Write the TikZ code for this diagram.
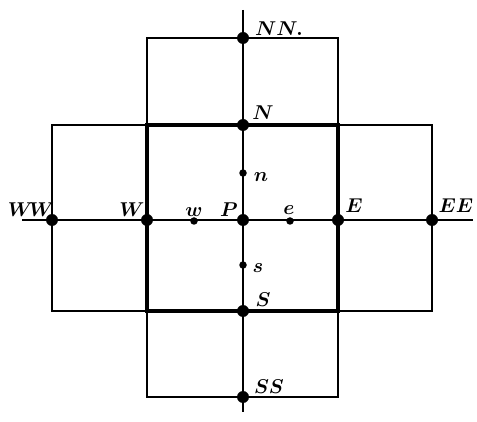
\documentclass[tikz,border=0pt]{standalone}
\usepackage{fix-cm}
\begin{document}
\begin{tikzpicture}[x=1pt,y=-1pt,
  gridline/.style={line width=1.8pt},
  thickline/.style={line width=3.6pt},
  bigdot/.style={circle,fill,inner sep=0pt,minimum size=12pt},
  smalldot/.style={circle,fill,inner sep=0pt,minimum size=7.5pt},
  lbl/.style={inner sep=0pt,font=\fontsize{20}{24}\selectfont\boldmath}]
\useasboundingbox (0,0) rectangle (477,422);
% grid points
\coordinate (NN) at (243,38);
\coordinate (N) at (243,125);
\coordinate (P) at (243,220);
\coordinate (S) at (243,311);
\coordinate (SS) at (243,397);
\coordinate (WW) at (52,220);
\coordinate (W) at (147,220);
\coordinate (E) at (338,220);
\coordinate (EE) at (432,220);
\coordinate (topend) at (243,10);
\coordinate (botend) at (243,412);
\coordinate (leftend) at (22,220);
\coordinate (rightend) at (473,220);
% boxes
\draw[gridline] (W|-NN) rectangle (E|-N);
\draw[gridline] (W|-S) rectangle (E|-SS);
\draw[gridline] (WW|-N) rectangle (W|-S);
\draw[gridline] (E|-N) rectangle (EE|-S);
\draw[thickline] (W|-N) rectangle (E|-S);
% axes
\draw[gridline] (topend) -- (botend);
\draw[gridline] (leftend) -- (rightend);
% dots
\node[bigdot] (dNN) at (NN) {};
\node[bigdot] (dN) at (N) {};
\node[bigdot] (dP) at (P) {};
\node[bigdot] (dS) at (S) {};
\node[bigdot] (dSS) at (SS) {};
\node[bigdot] (dWW) at (WW) {};
\node[bigdot] (dW) at (W) {};
\node[bigdot] (dE) at (E) {};
\node[bigdot] (dEE) at (EE) {};
\node[smalldot] (dn) at (243,173) {};
\node[smalldot] (ds) at (243,265) {};
\node[smalldot] (dw) at (194,221) {};
\node[smalldot] (de) at (290,221) {};
% labels
\node[lbl] (lNN) at (279,29) {$NN.$};
\node[lbl] (lN) at (263,113) {$N$};
\node[lbl] (ln) at (261,177) {$n$};
\node[lbl] (lWW) at (31,210) {$W\!W$};
\node[lbl] (lW) at (132,210) {$W$};
\node[lbl] (lw) at (194,212) {$w$};
\node[lbl] (lP) at (229,210) {$P$};
\node[lbl] (le) at (289,210) {$e$};
\node[lbl] (lE) at (354,206) {$E$};
\node[lbl] (lEE) at (456,206) {$EE$};
\node[lbl] (ls) at (258,268) {$s$};
\node[lbl] (lS) at (263,300) {$S$};
\node[lbl] (lSS) at (269,387) {$SS$};
\end{tikzpicture}
\end{document}
